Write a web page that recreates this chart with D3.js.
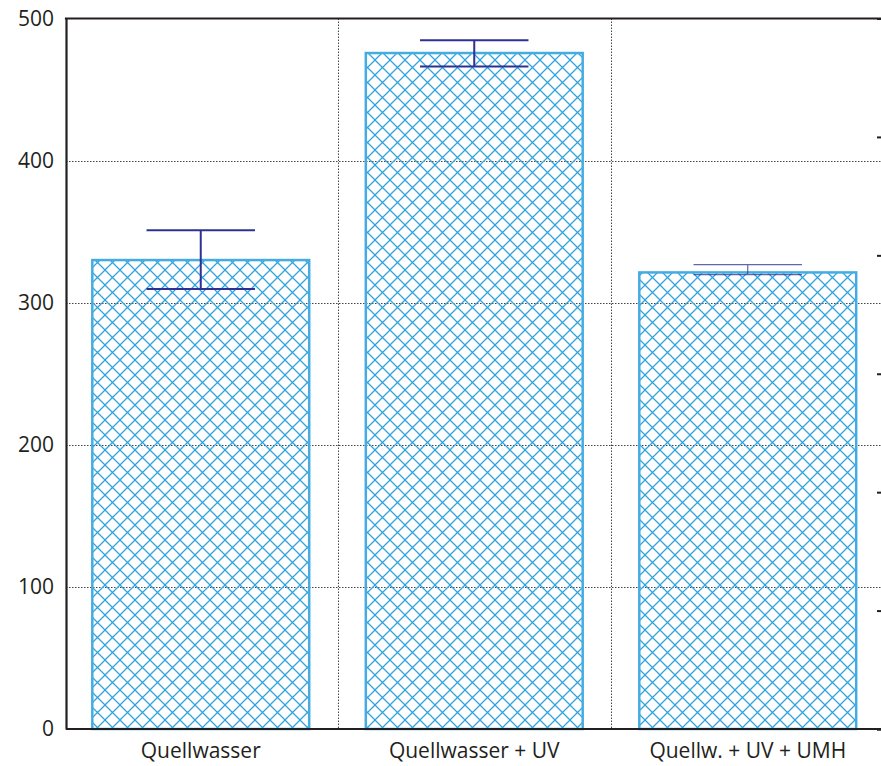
<!DOCTYPE html>
<html>
<head>
<meta charset="utf-8">
<script src="https://cdn.jsdelivr.net/npm/d3@7"></script>
<style>
  html, body { margin: 0; padding: 0; background: #fff; overflow: hidden; }
  svg { display: block; }
</style>
</head>
<body>
<svg id="chart" width="881" height="766"></svg>
<script>
// ---- data ----
const categories = ["Quellwasser", "Quellwasser + UV", "Quellw. + UV + UMH"];
const values = [330, 475.7, 321.3];
const errUpper = [351, 484.7, 326.8];
const errLower = [309.6, 466.2, 319.7];
const yTicks = [0, 100, 200, 300, 400, 500];
const gridValues = [100, 200, 300, 400];
const rightTicks = [0, 1, 2, 3, 4, 5, 6];

(function () {
// ---- layout ----
const svg = d3.select("#chart");
const mLeft = 66, mTop = 18.5, mBottom = 729;
const bandStart = 64, bandEnd = 884.5;
const ink = "#231f20";
const barStroke = "#45ace2";
const hatchColor = "#2fa3de";
const errColor = "#2e3192";
const font = "'Open Sans', sans-serif";

const y = d3.scaleLinear().domain([0, 500]).range([mBottom, mTop]);
const x = d3.scaleBand().domain(categories).range([bandStart, bandEnd]).padding(0);
const barFrac = 0.793;
const yR = d3.scaleLinear().domain([0, 6]).range([mBottom, mTop]);

// hatch pattern
const defs = svg.append("defs");
const pat = defs.append("pattern")
  .attr("id", "hatch")
  .attr("patternUnits", "userSpaceOnUse")
  .attr("width", 15).attr("height", 15);
pat.append("path")
  .attr("d", "M0,0 L15,15 M15,0 L0,15 M-1,14 L1,16 M14,-1 L16,1 M-1,1 L1,-1 M14,16 L16,14")
  .attr("stroke", hatchColor).attr("stroke-width", 1.25).attr("fill", "none");

// horizontal grid
svg.append("g").selectAll("line").data(gridValues).join("line")
  .attr("x1", mLeft).attr("x2", 881)
  .attr("y1", d => Math.round(y(d)) + 0.5).attr("y2", d => Math.round(y(d)) + 0.5)
  .attr("stroke", "#444").attr("stroke-width", 1).attr("stroke-dasharray", "1.5,1.5");

// vertical grid between categories
svg.append("g").selectAll("line").data(categories.slice(1)).join("line")
  .attr("x1", d => Math.round(x(d)) + 0.5).attr("x2", d => Math.round(x(d)) + 0.5)
  .attr("y1", mTop).attr("y2", mBottom)
  .attr("stroke", "#444").attr("stroke-width", 1).attr("stroke-dasharray", "1.5,1.5");

// bars
const bw = x.bandwidth() * barFrac;
svg.append("g").selectAll("rect").data(values).join("rect")
  .attr("x", (d, i) => x(categories[i]) + (x.bandwidth() - bw) / 2)
  .attr("y", d => y(d))
  .attr("width", bw)
  .attr("height", d => y(0) - y(d))
  .attr("fill", "url(#hatch)")
  .attr("stroke", barStroke).attr("stroke-width", 2.5);

// error bars
const eg = svg.append("g");
values.forEach((v, i) => {
  const cx = x(categories[i]) + x.bandwidth() / 2;
  const cap = bw / 2;
  const sw = i === 2 ? 1.2 : 2;
  const g = eg.append("g").attr("stroke", errColor).attr("stroke-width", sw).attr("opacity", i === 2 ? 0.75 : 1);
  g.append("line").attr("x1", cx).attr("x2", cx).attr("y1", y(errUpper[i])).attr("y2", y(errLower[i]));
  g.append("line").attr("x1", cx - cap / 2).attr("x2", cx + cap / 2).attr("y1", y(errUpper[i])).attr("y2", y(errUpper[i]));
  g.append("line").attr("x1", cx - cap / 2).attr("x2", cx + cap / 2).attr("y1", y(errLower[i])).attr("y2", y(errLower[i]));
});

// left axis
const yAxis = d3.axisLeft(y).tickValues(yTicks).tickSize(0).tickPadding(12);
const ya = svg.append("g").attr("transform", `translate(${mLeft},0)`).call(yAxis);
ya.select(".domain").attr("stroke", ink).attr("stroke-width", 2.2);
ya.selectAll("text").attr("font-family", font).attr("font-size", 21).attr("fill", ink);

// bottom axis
const xAxis = d3.axisBottom(x).tickSize(0).tickPadding(14);
const xa = svg.append("g").attr("transform", `translate(0,${mBottom})`).call(xAxis);
xa.select(".domain").remove();
xa.append("line").attr("x1", mLeft).attr("x2", 881).attr("y1", 0).attr("y2", 0)
  .attr("stroke", ink).attr("stroke-width", 2.2);
xa.selectAll("text").attr("font-family", font).attr("font-size", 21).attr("fill", ink);

// top border
svg.append("line").attr("x1", mLeft - 1.1).attr("x2", 881).attr("y1", mTop).attr("y2", mTop)
  .attr("stroke", ink).attr("stroke-width", 2.2);

// right axis (mostly outside the view)
const rAxis = d3.axisLeft(yR).tickValues(rightTicks).tickSize(9).tickFormat("");
const ra = svg.append("g").attr("transform", "translate(886,0)").call(rAxis);
ra.selectAll(".tick line").attr("stroke", ink).attr("stroke-width", 2);
ra.select(".domain").attr("stroke", ink).attr("stroke-width", 2);
})();
</script>
</body>
</html>
